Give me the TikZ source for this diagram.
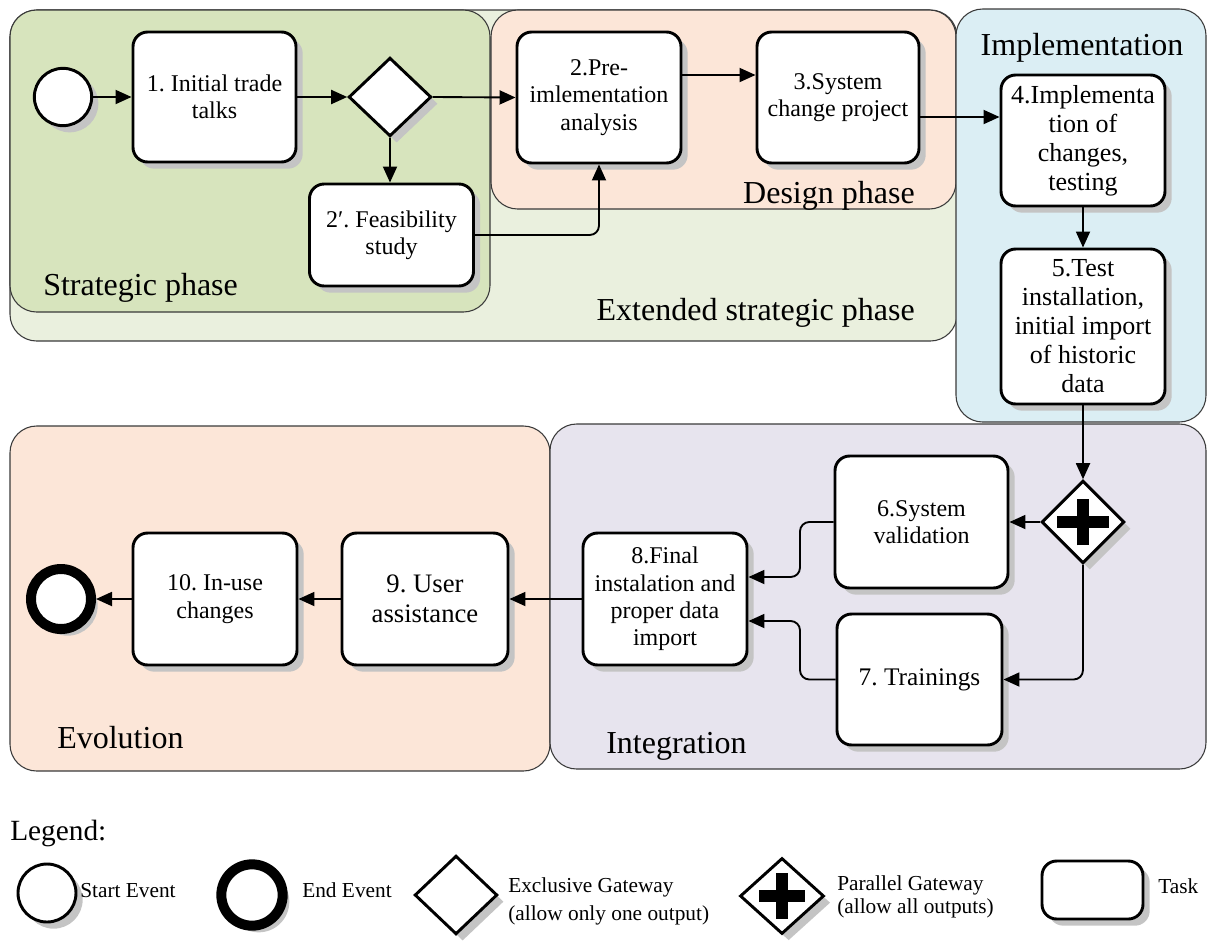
\documentclass[tikz,border=0pt]{standalone}
\usepackage{fontspec}
\setmainfont{Liberation Serif}
\usetikzlibrary{shapes.geometric,shadows,arrows.meta,calc}
\definecolor{extcol}{HTML}{EAF0DE}
\definecolor{stratcol}{HTML}{D7E4BD}
\definecolor{designcol}{HTML}{FCE6D8}
\definecolor{implcol}{HTML}{DBEEF4}
\definecolor{evolcol}{HTML}{FCE6D8}
\definecolor{integcol}{HTML}{E7E4EE}
\definecolor{shadowcol}{HTML}{C4C4C4}
\definecolor{framecol}{HTML}{3A3A3A}
\frenchspacing
\begin{document}
\begin{tikzpicture}[x=0.75pt,y=-0.75pt,
  container/.style={draw=framecol, line width=0.8pt, rounded corners=20pt},
  bshadow/.style={drop shadow={shadow xshift=5pt, shadow yshift=-5pt, fill=shadowcol, opacity=1}},
  taskbox/.style={draw, line width=2.2pt, rounded corners=11pt, fill=white, bshadow,
    align=center, inner sep=2pt, font=\fontsize{18}{20.5}\selectfont},
  tsize/.style 2 args={minimum width=#1*0.75pt, minimum height=#2*0.75pt},
  gateway/.style={diamond, draw, line width=2.2pt, fill=white, bshadow, inner sep=0pt},
  startev/.style={circle, draw, line width=2.2pt, fill=white, bshadow, inner sep=0pt, minimum size=43pt},
  endev/.style={circle, draw, line width=7.5pt, fill=white, bshadow, inner sep=0pt, minimum size=45pt},
  flow/.style={draw, line width=1.4pt, rounded corners=7pt, -{Triangle[length=12pt,width=10.5pt]}},
  lab/.style={inner sep=0pt, font=\fontsize{24}{28}\selectfont},
  legtxt/.style={inner sep=0pt, font=\fontsize{16}{19}\selectfont},
  crossbar/.style={line width=8.5pt}
]
\useasboundingbox (0,0) rectangle (1207,940);

% ---------- containers ----------
\draw[container, fill=extcol] (10,10) rectangle (957,341);
\draw[container, fill=stratcol] (10,10) rectangle (490,312);
\draw[container, fill=designcol] (491,10) rectangle (956,209);
\draw[container, fill=implcol] (956,9) rectangle (1206,422);
\draw[container, fill=evolcol] (10,426) rectangle (550,771);
\draw[container, fill=integcol] (550,424) rectangle (1206,769);

% ---------- container labels ----------
\node[lab, anchor=base west] (lstrat) at (43,295) {Strategic phase};
\node[lab, anchor=base east] (lext) at (915,320) {Extended strategic phase};
\node[lab, anchor=base east] (ldesign) at (915,203) {Design phase};
\node[lab, anchor=base] (limpl) at (1082,55) {Implementation};
\node[lab, anchor=base west] (levol) at (57,748) {Evolution};
\node[lab, anchor=base west] (linteg) at (606,753) {Integration};

% ---------- top flow ----------
\node[startev] (start) at (63,97) {};
\node[taskbox, tsize={163}{130}] (t1) at (214.5,97) {1. Initial trade\\talks};
\node[gateway, minimum width=62pt, minimum height=59pt] (gw1) at (390,97) {};
\node[taskbox, tsize={164}{131}] (t2) at (599,97.5) {2.Pre-\\imlementation\\analysis};
\node[taskbox, tsize={162}{131}] (t3) at (838,97.5) {3.System\\change project};
\node[taskbox, tsize={164}{102}] (t2p) at (391.5,235) {2′. Feasibility\\study};
\node[taskbox, tsize={164}{131}, font=\fontsize{19.5}{21.75}\selectfont] (t4) at (1083,140.5)
  {4.Implementa\\tion of\\changes,\\testing};
\node[taskbox, tsize={164}{155}, font=\fontsize{19.5}{21.75}\selectfont] (t5) at (1083,326.5)
  {5.Test\\installation,\\initial import\\of historic\\data};

% ---------- bottom flow ----------
\node[gateway, minimum width=62pt, minimum height=62pt] (gw2) at (1083,522) {};
\draw[crossbar] ([xshift=-19.5pt]gw2.center) -- ([xshift=19.5pt]gw2.center);
\draw[crossbar] ([yshift=-17.5pt]gw2.center) -- ([yshift=17.5pt]gw2.center);
\node[taskbox, tsize={173}{132}] (t6) at (921.5,522) {6.System\\validation};
\node[taskbox, tsize={165}{131}, font=\fontsize{19}{21}\selectfont] (t7) at (919.5,679.5) {7. Trainings};
\node[taskbox, tsize={164}{132}] (t8) at (665,599) {8.Final\\instalation and\\proper data\\import};
\node[taskbox, tsize={166}{132}, font=\fontsize{20}{22.5}\selectfont] (t9) at (425,599) {9. User\\assistance};
\node[taskbox, tsize={164}{132}] (t10) at (215,599) {10. In-use\\changes};
\node[endev] (end) at (61,599) {};

\coordinate (c75) at (0,75);
\coordinate (c117) at (0,117);
\coordinate (m1) at (800,577);
\coordinate (m2) at (800,621);

% ---------- connectors ----------
\draw[flow] (start) -- (t1);
\draw[flow] (t1) -- (gw1);
\draw[flow] (gw1.east) -- (t2.west);
\draw[flow] (gw1.south) -- (gw1.south |- t2p.north);
\draw[flow] (t2p.east) -| (t2.south);
\draw[flow] (t2.east |- c75) -- (t3.west |- c75);
\draw[flow] (t3.east |- c117) -- (t4.west |- c117);
\draw[flow] (t4.south) -- (t5.north);
\draw[flow] (t5.south) -- (t5.south |- gw2.north);
\draw[flow] (gw2.west) -- (t6.east);
\draw[flow] (gw2.south) |- (t7.east);
\draw[flow] (t6.west) -| (m1) -- (t8.east |- m1);
\draw[flow] (t7.west) -| (m2) -- (t8.east |- m2);
\draw[flow] (t8.west) -- (t9.east);
\draw[flow] (t9.west) -- (t10.east);
\draw[flow] (t10.west) -- (end.east);

% ---------- legend ----------
\node[anchor=base west, inner sep=0pt, font=\fontsize{22}{26}\selectfont] (legtitle) at (10,840) {Legend:};
\node[startev, minimum size=43.5pt] (lgstart) at (47,893) {};
\node[legtxt, anchor=base west] (lgstarttxt) at (80,897) {Start Event};
\node[endev, minimum size=46pt] (lgend) at (252,895) {};
\node[legtxt, anchor=base west] (lgendtxt) at (302,897) {End Event};
\node[gateway, minimum width=62pt, minimum height=59pt] (lgxor) at (456,895) {};
\node[legtxt, anchor=base west] (lgxortxta) at (508,892) {Exclusive Gateway};
\node[legtxt, anchor=base west] (lgxortxtb) at (508,920) {(allow only one output)};
\node[gateway, minimum width=63pt, minimum height=57pt] (lgand) at (782,896) {};
\draw[crossbar] ([xshift=-17pt]lgand.center) -- ([xshift=17pt]lgand.center);
\draw[crossbar] ([yshift=-17pt]lgand.center) -- ([yshift=17pt]lgand.center);
\node[legtxt, anchor=base west] (lgandtxta) at (837,890) {Parallel Gateway};
\node[legtxt, anchor=base west] (lgandtxtb) at (837,913) {(allow all outputs)};
\node[taskbox, tsize={101}{58}] (lgtask) at (1092.5,890) {};
\node[legtxt, anchor=base west] (lgtasktxt) at (1158,893) {Task};
\end{tikzpicture}
\end{document}
